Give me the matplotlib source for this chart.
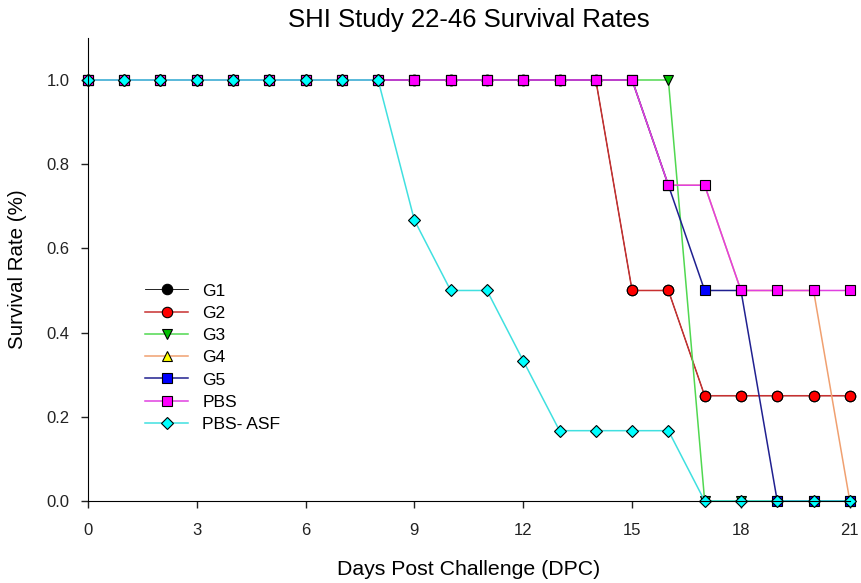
import matplotlib.pyplot as plt

plt.rcParams['font.family'] = ['Liberation Sans', 'DejaVu Sans']

days = list(range(22))
# G1 is hidden under G2 in the picture
g1 = [1.0] * 15 + [0.5, 0.5] + [0.25] * 5
g2 = [1.0] * 15 + [0.5, 0.5] + [0.25] * 5
g3 = [1.0] * 17 + [0.0] * 5
g4 = [1.0] * 16 + [0.75, 0.75, 0.5, 0.5, 0.5, 0.0]
g5 = [1.0] * 16 + [0.75, 0.5, 0.5, 0.0, 0.0, 0.0]
pbs = [1.0] * 16 + [0.75, 0.75, 0.5, 0.5, 0.5, 0.5]
pbs_asf = [1.0] * 9 + [0.667, 0.5, 0.5, 0.333, 0.167, 0.167, 0.167, 0.167, 0.0, 0.0, 0.0, 0.0, 0.0]

series = [
    ("G1", g1, 'o', '#000000', '#000000'),
    ("G2", g2, 'o', '#ff0000', '#c83030'),
    ("G3", g3, 'v', '#00c000', '#50d850'),
    ("G4", g4, '^', '#ffff00', '#f0a070'),
    ("G5", g5, 's', '#0000ff', '#202090'),
    ("PBS", pbs, 's', '#ff00ff', '#e040e0'),
    ("PBS- ASF", pbs_asf, 'D', '#00ffff', '#40e0e0'),
]

fig = plt.figure(figsize=(8.61, 5.83), dpi=100)
ax = fig.add_axes([0.102, 0.1407, 0.885, 0.7943])

for name, vals, mk, fc, lc in series:
    ms = 6.5 if mk == 'D' else 7.5
    lw = 0.6 if name == "G1" else 1.1
    ax.plot(days, vals, color=lc, lw=lw, marker=mk, markersize=ms,
            markerfacecolor=fc, markeredgecolor='black', markeredgewidth=0.8,
            label=name, clip_on=False)

ax.set_xlim(0, 21)
ax.set_ylim(0, 1.1)
ax.set_xticks(range(0, 22, 3))
ax.set_yticks([0.0, 0.2, 0.4, 0.6, 0.8, 1.0])
ax.set_yticklabels(['0.0', '0.2', '0.4', '0.6', '0.8', '1.0'])
ax.spines['top'].set_visible(False)
ax.spines['right'].set_visible(False)
ax.tick_params(direction='out', length=5, width=1, labelsize=12, colors='#222222')
ax.tick_params(axis='x', pad=11)
ax.tick_params(axis='y', pad=8)

ax.set_title("SHI Study 22-46 Survival Rates", fontsize=18.5, pad=8)
ax.set_xlabel("Days Post Challenge (DPC)", fontsize=15.3, labelpad=16)
ax.set_ylabel("Survival Rate (%)", fontsize=14.8, labelpad=14)

fig.legend(loc='upper left', bbox_to_anchor=(0.168, 0.514), frameon=False,
           fontsize=12.6, handlelength=2.5, handletextpad=0.8,
           labelspacing=0.4, borderpad=0, borderaxespad=0)

fig.savefig("out.png", dpi=100)
